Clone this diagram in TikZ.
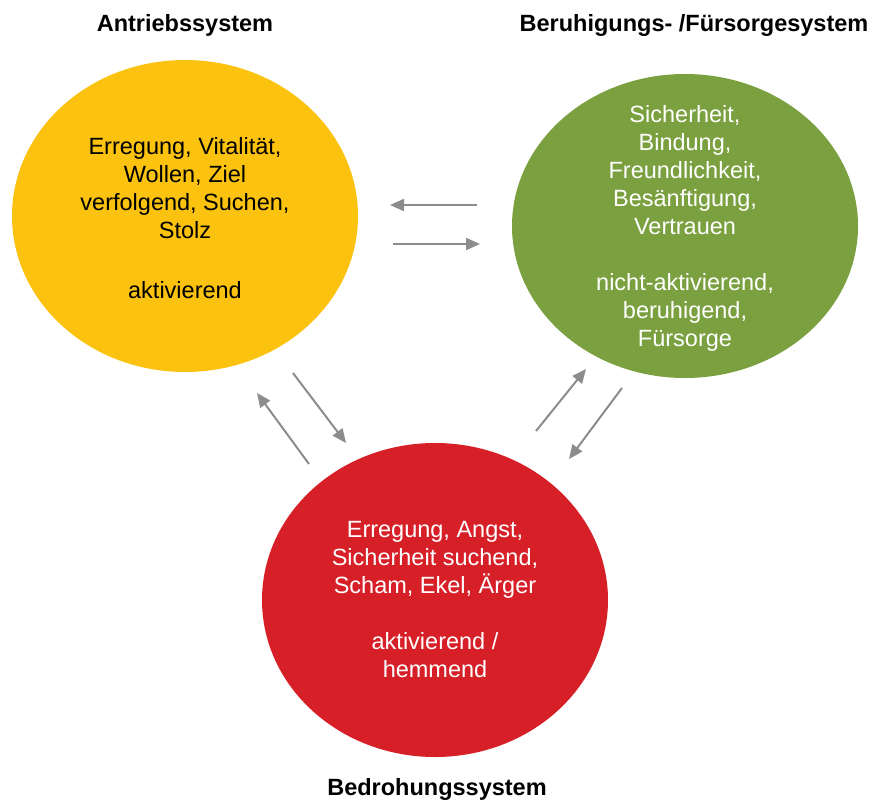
\documentclass[tikz,border=0pt]{standalone}
\usepackage{fontspec}
\setmainfont{Liberation Sans}
\usetikzlibrary{arrows.meta,shapes.geometric}
\definecolor{drive}{HTML}{FBC20F}
\definecolor{soothe}{HTML}{7BA040}
\definecolor{threat}{HTML}{D71F27}
\definecolor{link}{HTML}{8C8C8C}
\begin{document}
\begin{tikzpicture}[x=1pt,y=-1pt,
  system/.style={ellipse,draw=none,inner sep=0pt,minimum width=346pt,minimum height=312pt},
  systext/.style={align=center,inner sep=0pt,font=\fontsize{23.5}{28}\selectfont},
  heading/.style={font=\fontsize{23.5}{28}\selectfont\bfseries,inner sep=0pt,anchor=center},
  flow/.style={draw=link,line width=2pt,-{Triangle[length=14pt,width=12pt]}}]
\useasboundingbox (0,0) rectangle (877,803);

% the three emotion-regulation systems
\node[system,fill=drive] (drive) at (185,216) {};
\node[system,fill=soothe,minimum height=304pt] (soothe) at (685,226) {};
\node[system,fill=threat,minimum height=314pt] (threat) at (435,600) {};

\node[systext,text=black] (tdrive) at ([yshift=-2pt]drive.center)
  {Erregung, Vitalität,\\Wollen, Ziel\\verfolgend, Suchen,\\Stolz\\[32pt]aktivierend};
\node[systext,text=white] (tsoothe) at ([yshift=-2pt]soothe.center)
  {Sicherheit,\\Bindung,\\Freundlichkeit,\\Besänftigung,\\Vertrauen\\[28pt]nicht-aktivierend,\\beruhigend,\\Fürsorge};
\node[systext,text=white] (tthreat) at (threat.center)
  {Erregung, Angst,\\Sicherheit suchend,\\Scham, Ekel, Ärger\\[28pt]aktivierend /\\hemmend};

% headings
\node[heading] (hdrive) at (185,25) {Antriebssystem};
\node[heading] (hsoothe) at (694,25) {Beruhigungs- /Fürsorgesystem};
\node[heading] (hthreat) at (437,789) {Bedrohungssystem};

% arrow end points between the systems
\coordinate (sd1) at (477,205); \coordinate (sd2) at (390,205);
\coordinate (ds1) at (393,244); \coordinate (ds2) at (480,244);
\coordinate (dt1) at (293,373); \coordinate (dt2) at (346,443);
\coordinate (td1) at (309,464); \coordinate (td2) at (257,393);
\coordinate (ts1) at (536,431); \coordinate (ts2) at (586,369);
\coordinate (st1) at (622,388); \coordinate (st2) at (569,459);

\draw[flow] (sd1) -- (sd2);
\draw[flow] (ds1) -- (ds2);
\draw[flow] (dt1) -- (dt2);
\draw[flow] (td1) -- (td2);
\draw[flow] (ts1) -- (ts2);
\draw[flow] (st1) -- (st2);
\end{tikzpicture}
\end{document}
